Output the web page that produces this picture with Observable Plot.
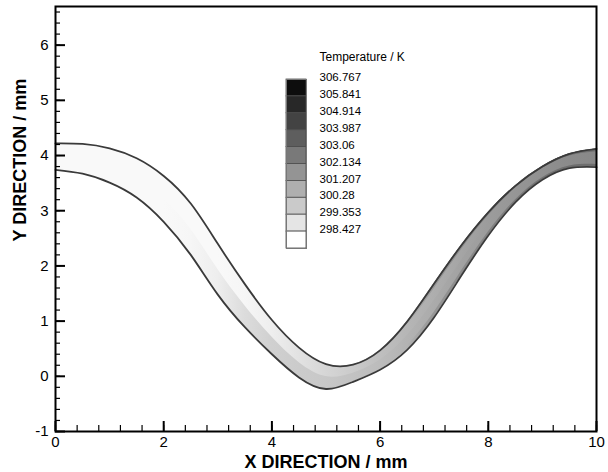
<!DOCTYPE html>
<html><head><meta charset="utf-8">
<script src="https://cdn.jsdelivr.net/npm/d3@7"></script>
<script src="https://cdn.jsdelivr.net/npm/@observablehq/plot@0.6"></script>
<style>
body{margin:0;background:#fff;}
#wrap{position:relative;width:608px;height:472px;}
#wrap > svg{position:absolute;left:0;top:0;display:block;}
#wrap > svg.legend{left:270px;top:45px;}
</style></head><body><div id="wrap"></div>
<script>
// ---- data ----
const xStations = [0, 0.5, 1, 1.5, 2, 2.5, 3, 3.5, 4, 4.5, 5, 5.5, 6, 6.5, 7, 7.5, 8, 8.5, 9, 9.5, 10];
const upperWall = [4.22, 4.21, 4.13, 3.95, 3.63, 3.13, 2.40, 1.67, 1.02, 0.52, 0.22, 0.21, 0.47, 0.99, 1.68, 2.37, 2.97, 3.45, 3.80, 4.03, 4.12];
const lowerWall = [3.74, 3.67, 3.51, 3.24, 2.80, 2.20, 1.48, 0.89, 0.40, -0.02, -0.23, -0.10, 0.12, 0.48, 1.07, 1.82, 2.55, 3.15, 3.56, 3.77, 3.79];
// temperature (K) along the channel, lower half / upper half / near the walls
const tempLowerHalf = [298.2, 298.2, 298.2, 298.2, 298.2, 298.3, 298.6, 299.2, 299.6, 299.8, 299.9, 300.1, 300.3, 300.6, 300.9, 301.2, 301.4, 301.6, 301.8, 302.0, 302.1];
const tempUpperHalf = [298.2, 298.2, 298.2, 298.2, 298.2, 298.2, 298.2, 298.3, 298.6, 299.0, 299.4, 299.8, 300.2, 300.5, 300.8, 301.1, 301.4, 301.6, 301.8, 302.0, 302.1];
const tempNearWalls = [null, null, null, null, null, null, null, null, null, null, null, null, null, null, 301.6, 302.0, 302.3, 302.6, 302.8, 303.0, 303.0];

const legendLevels = [306.767, 305.841, 304.914, 303.987, 303.06, 302.134, 301.207, 300.28, 299.353, 298.427];
const legendTitle = "Temperature / K";
const xTicks = [0, 2, 4, 6, 8, 10];
const yTicks = [-1, 0, 1, 2, 3, 4, 5, 6];
const xLabel = "X DIRECTION / mm";
const yLabel = "Y DIRECTION / mm";

// ---- build ----
const font = "'Liberation Sans', Arial, Helvetica, sans-serif";
const colorOpts = {type: "linear", domain: [298, 306.767], range: ["#ffffff", "#000000"], interpolate: "rgb"};
const colorScale = Plot.scale({color: colorOpts});

const channel = xStations.map((x, i) => {
  const u = upperWall[i], l = lowerWall[i], g = u - l;
  return {x, upper: u, lower: l, mid: (u + l) / 2, lowEdge: l + 0.15 * g, upEdge: u - 0.15 * g};
});
const xMinor = d3.range(0, 10.001, 0.4);
const yMinor = d3.range(-1, 6.701, 0.2);

const wallStyle = {x: "x", stroke: "#3a3a3a", strokeWidth: 1.8, curve: "natural"};

const plot = Plot.plot({
  width: 608, height: 472,
  marginLeft: 55, marginRight: 12, marginTop: 6, marginBottom: 41,
  style: {fontFamily: font, background: "#fff", color: "#000"},
  x: {domain: [0, 10]},
  y: {domain: [-1, 6.7]},
  marks: [
    Plot.areaY(channel, {x: "x", y1: "lower", y2: "upper", fill: "url(#gLow)", curve: "natural"}),
    Plot.areaY(channel, {x: "x", y1: "mid", y2: "upper", fill: "url(#gUp)", curve: "natural"}),
    Plot.areaY(channel, {x: "x", y1: "lower", y2: "lowEdge", fill: "url(#gEdge)", curve: "natural"}),
    Plot.areaY(channel, {x: "x", y1: "upEdge", y2: "upper", fill: "url(#gEdge)", curve: "natural"}),
    Plot.line(channel, {...wallStyle, y: "upper"}),
    Plot.line(channel, {...wallStyle, y: "lower"}),
    Plot.axisX({ticks: xMinor, tickSize: 6, dy: -6, fill: "none", label: null, strokeWidth: 1.2}),
    Plot.axisX({ticks: xTicks, tickSize: 10, dy: -10, fill: "none", label: null, strokeWidth: 2}),
    Plot.axisX({ticks: xTicks, tickSize: 0, tickPadding: 5, fontSize: 15, label: null, tickFormat: d => String(d)}),
    Plot.axisY({ticks: yMinor, tickSize: 5, dx: 5, fill: "none", label: null, strokeWidth: 1.2}),
    Plot.axisY({ticks: yTicks, tickSize: 10, dx: 10, fill: "none", label: null, strokeWidth: 2}),
    Plot.axisY({ticks: yTicks, tickSize: 0, tickPadding: 7, fontSize: 15, label: null, tickFormat: d => String(d)}),
    Plot.frame({stroke: "#000", strokeWidth: 2}),
    Plot.text([xLabel], {text: d => d, frameAnchor: "bottom", lineAnchor: "bottom", dy: 36, fontSize: 18, fontWeight: "bold"}),
    Plot.text([yLabel], {text: d => d, frameAnchor: "left", lineAnchor: "bottom", dx: -30, dy: 22.5, rotate: -90, fontSize: 18, fontWeight: "bold"})
  ]
});

// gradients along x built from the temperature arrays through the colour scale
const ns = "http://www.w3.org/2000/svg";
const xs = plot.scale("x");
const defs = document.createElementNS(ns, "defs");
function gradient(id, temps) {
  const g = document.createElementNS(ns, "linearGradient");
  g.setAttribute("id", id);
  g.setAttribute("gradientUnits", "userSpaceOnUse");
  const x0 = xStations[0], x1 = xStations[xStations.length - 1];
  g.setAttribute("x1", xs.apply(x0)); g.setAttribute("x2", xs.apply(x1));
  g.setAttribute("y1", 0); g.setAttribute("y2", 0);
  const firstValid = temps.find(t => t != null);
  temps.forEach((t, i) => {
    const s = document.createElementNS(ns, "stop");
    s.setAttribute("offset", (xStations[i] - x0) / (x1 - x0));
    s.setAttribute("stop-color", colorScale.apply(t == null ? firstValid : t));
    s.setAttribute("stop-opacity", t == null ? 0 : 1);
    g.appendChild(s);
  });
  defs.appendChild(g);
}
gradient("gLow", tempLowerHalf);
gradient("gUp", tempUpperHalf);
gradient("gEdge", tempNearWalls);
plot.insertBefore(defs, plot.firstChild);

// legend: box i lies between level i and level i+1 (last box below the lowest level)
const legendBoxes = legendLevels.map((v, i) => ({
  i,
  t: i + 1 < legendLevels.length ? (v + legendLevels[i + 1]) / 2 : v - (legendLevels[i - 1] - v) / 2
}));
const legend = Plot.plot({
  width: 140, height: 210,
  marginLeft: 16, marginRight: 104, marginTop: 34, marginBottom: 7,
  style: {fontFamily: font, background: "transparent", color: "#000", overflow: "visible"},
  x: {type: "linear", domain: [0, 1], axis: null},
  y: {type: "linear", domain: [legendLevels.length, 0], axis: null},
  color: colorOpts,
  marks: [
    Plot.rect(legendBoxes, {x1: () => 0, x2: () => 1, y1: "i", y2: d => d.i + 1, fill: "t", stroke: "#4a4a4a", strokeWidth: 0.8}),
    Plot.frame({stroke: "#777", strokeWidth: 1}),
    Plot.text(legendLevels, {x: () => 1, y: (d, i) => i, text: d => String(d), textAnchor: "start", dx: 13, dy: -2, fontSize: 11.5}),
    Plot.text([legendTitle], {x: () => 1, y: () => 0, text: d => d, textAnchor: "start", dx: 13, dy: -22, fontSize: 12})
  ]
});
legend.setAttribute("class", (legend.getAttribute("class") || "") + " legend");

const wrap = document.getElementById("wrap");
wrap.appendChild(plot);
wrap.appendChild(legend);
</script>
</body></html>
